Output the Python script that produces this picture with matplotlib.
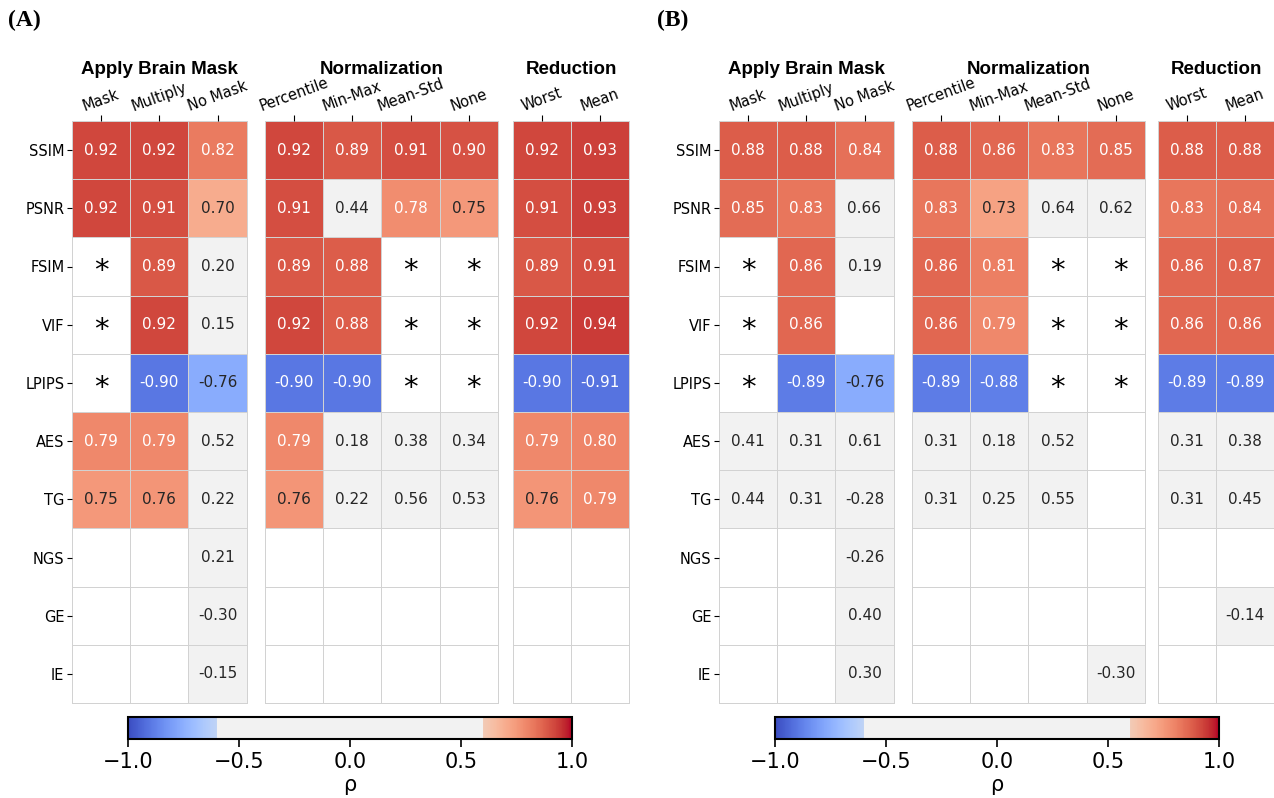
import numpy as np
import matplotlib.pyplot as plt
from matplotlib.colors import ListedColormap, Normalize, to_rgba
from matplotlib.cm import ScalarMappable

N = np.nan
S = '*'   # cell shown with an asterisk

metrics = ['SSIM', 'PSNR', 'FSIM', 'VIF', 'LPIPS', 'AES', 'TG', 'NGS', 'GE', 'IE']
group_names = ['Apply Brain Mask', 'Normalization', 'Reduction']
group_cols = [['Mask', 'Multiply', 'No Mask'],
              ['Percentile', 'Min-Max', 'Mean-Std', 'None'],
              ['Worst', 'Mean']]

# ---- panel (A)
a_mask = [[0.92, 0.92, 0.82], [0.92, 0.91, 0.70], [S, 0.89, 0.20], [S, 0.92, 0.15],
          [S, -0.90, -0.76], [0.79, 0.79, 0.52], [0.75, 0.76, 0.22],
          [N, N, 0.21], [N, N, -0.30], [N, N, -0.15]]
a_norm = [[0.92, 0.89, 0.91, 0.90], [0.91, 0.44, 0.78, 0.75], [0.89, 0.88, S, S],
          [0.92, 0.88, S, S], [-0.90, -0.90, S, S], [0.79, 0.18, 0.38, 0.34],
          [0.76, 0.22, 0.56, 0.53], [N, N, N, N], [N, N, N, N], [N, N, N, N]]
a_red = [[0.92, 0.93], [0.91, 0.93], [0.89, 0.91], [0.92, 0.94], [-0.90, -0.91],
         [0.79, 0.80], [0.76, 0.79], [N, N], [N, N], [N, N]]

# ---- panel (B)
b_mask = [[0.88, 0.88, 0.84], [0.85, 0.83, 0.66], [S, 0.86, 0.19], [S, 0.86, N],
          [S, -0.89, -0.76], [0.41, 0.31, 0.61], [0.44, 0.31, -0.28],
          [N, N, -0.26], [N, N, 0.40], [N, N, 0.30]]
b_norm = [[0.88, 0.86, 0.83, 0.85], [0.83, 0.73, 0.64, 0.62], [0.86, 0.81, S, S],
          [0.86, 0.79, S, S], [-0.89, -0.88, S, S], [0.31, 0.18, 0.52, N],
          [0.31, 0.25, 0.55, N], [N, N, N, N], [N, N, N, N], [N, N, N, -0.30]]
b_red = [[0.88, 0.88], [0.83, 0.84], [0.86, 0.87], [0.86, 0.86], [-0.89, -0.89],
         [0.31, 0.38], [0.31, 0.45], [N, N], [N, -0.14], [N, N]]

panels = {'(A)': [a_mask, a_norm, a_red], '(B)': [b_mask, b_norm, b_red]}

GRAY = '#f2f2f2'
base = plt.get_cmap('coolwarm')
norm = Normalize(-1, 1)
cell_thresh = 0.67   # cells under this |rho| are drawn gray
band = 0.6           # grey band of the colour bar


def rho_color(v):
    # negative side uses the blue end of coolwarm, positive side the red end
    return base(v + 1 if v < 0 else v)


# colourbar map built the same way
vals = np.linspace(-1, 1, 512)
lut = np.array([to_rgba(GRAY) if abs(v) < band else rho_color(v) for v in vals])
bar_cmap = ListedColormap(lut)

fig = plt.figure(figsize=(12.74, 7.98), dpi=100)
W, H = 1274, 798
cell = 58.2
top, bottom = 121, 703

panel_left = {'(A)': [72, 265, 513], '(B)': [719, 912, 1158]}
cbar_left = {'(A)': 128, '(B)': 775}
label_x = {'(A)': 8, '(B)': 657}

for pname, groups in panels.items():
    fig.text(label_x[pname] / W, 1 - 20 / H, pname, fontsize=17, fontweight='bold',
             family='Liberation Serif', ha='left', va='center')
    for gi, raw in enumerate(groups):
        ncol = len(group_cols[gi])
        x0 = panel_left[pname][gi]
        ax = fig.add_axes([x0 / W, 1 - bottom / H, ncol * cell / W, (bottom - top) / H])
        stars = np.array([[v == S for v in row] for row in raw])
        data = np.array([[N if v == S else v for v in row] for row in raw], dtype=float)
        rgb = np.ones(data.shape + (4,))
        for r in range(data.shape[0]):
            for c in range(ncol):
                v = data[r, c]
                if np.isnan(v):
                    continue
                if abs(v) < cell_thresh:
                    rgb[r, c] = to_rgba(GRAY)
                else:
                    rgb[r, c] = rho_color(v)
                txt_col = 'white' if (abs(v) >= 0.77) else '#262626'
                ax.text(c + 0.5, r + 0.5, f'{v:.2f}', ha='center', va='center',
                        fontsize=11, color=txt_col)

        for r, c in zip(*np.where(stars)):
            dx = 0.08 if group_cols[gi][c] == 'None' else 0.0
            ax.text(c + 0.5 + dx, r + 0.72, '*', ha='center', va='baseline',
                    fontsize=21, color='black')
        ax.pcolormesh(np.arange(ncol + 1), np.arange(len(metrics) + 1), rgb,
                      edgecolors='#d2d2d2', linewidth=0.7, clip_on=False)
        ax.set_xlim(0, ncol)
        ax.set_ylim(len(metrics), 0)
        for s in ax.spines.values():
            s.set_visible(False)
        ax.xaxis.tick_top()
        ax.set_xticks(np.arange(ncol) + 0.5)
        ax.set_xticklabels(group_cols[gi], rotation=20, ha='center', fontsize=10.5)
        ax.tick_params(axis='x', length=4, width=0.8, pad=1)
        if gi == 0:
            ax.set_yticks(np.arange(len(metrics)) + 0.5)
            ax.set_yticklabels(metrics, fontsize=10.5)
            ax.tick_params(axis='y', length=3.5, width=0.8, pad=2)
        else:
            ax.set_yticks([])
        fig.text((x0 + ncol * cell / 2) / W, 1 - 70 / H, group_names[gi], fontsize=13.5,
                 fontweight='bold', family='Liberation Sans', ha='center', va='center')

    cax = fig.add_axes([cbar_left[pname] / W, 1 - 739 / H, 444 / W, 22 / H])
    cb = fig.colorbar(ScalarMappable(norm=norm, cmap=bar_cmap), cax=cax, orientation='horizontal')
    cb.set_ticks([-1.0, -0.5, 0.0, 0.5, 1.0])
    cb.ax.tick_params(labelsize=15, length=6, width=1.2)
    cb.outline.set_linewidth(1.5)
    cb.set_label('ρ', fontsize=15, labelpad=2)

fig.savefig('out.png', dpi=100)
